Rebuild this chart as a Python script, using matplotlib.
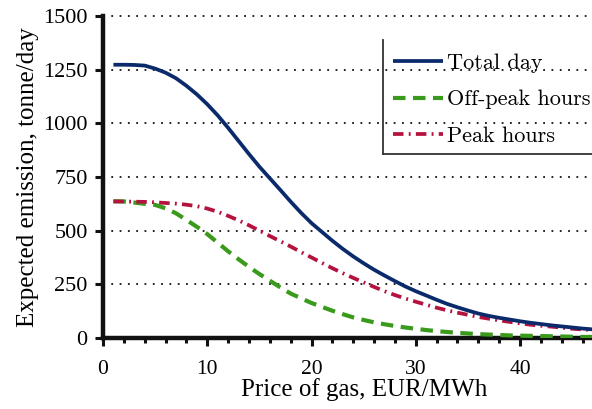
import matplotlib
matplotlib.use("Agg")
import matplotlib.pyplot as plt
from matplotlib.lines import Line2D
from matplotlib.ticker import MultipleLocator

# Gas price (EUR/MWh)
price = list(range(1, 48))

# Expected emission (tonne/day)
total_day = [1273, 1273, 1272, 1269, 1255, 1236, 1210, 1175, 1135, 1089,
             1037, 979, 918, 857, 798, 744, 690, 635, 583, 535,
             494, 453, 415, 380, 348, 318, 291, 265, 240, 218,
             198, 178, 159, 143, 128, 114, 103, 94, 86, 78,
             71, 65, 59, 54, 49, 44, 40]
off_peak = [637, 636, 631, 625, 620, 604, 581, 550, 518, 484,
            444, 404, 367, 331, 298, 267, 236, 207, 185, 163,
            145, 127, 111, 96, 84, 73, 64, 56, 49, 43,
            37, 32, 28, 24, 21, 18, 16, 14, 12, 11,
            10, 9, 8, 7, 6, 5, 5]
peak = [636, 636, 635, 634, 632, 629, 626, 621, 614, 603,
        588, 569, 548, 525, 500, 475, 451, 426, 400, 375,
        350, 325, 302, 280, 259, 238, 218, 200, 184, 169,
        155, 141, 129, 118, 108, 98, 90, 82, 75, 68,
        62, 57, 53, 48, 43, 40, 37]

series_labels = ["Total day", "Off-peak hours", "Peak hours"]
y_ticks = [0, 250, 500, 750, 1000, 1250, 1500]
x_ticks = [0, 10, 20, 30, 40]

navy = "#0b2a6b"
green = "#3a9a1c"
crimson = "#b5133f"

tick_font = "Liberation Serif"
legend_font = "cmr10"

style_total = dict(color=navy, lw=2.7, solid_capstyle="butt")
style_off = dict(color=green, lw=3.0, linestyle=(0, (3.0, 1.8)))
style_peak = dict(color=crimson, lw=2.7, linestyle=(0, (2.8, 1.4, 0.5, 1.4)))

fig = plt.figure(figsize=(5.92, 4.09), dpi=100)
ax = fig.add_axes([103 / 592, 71 / 409, (592 - 103) / 592, 322 / 409])

ax.plot(price, total_day, zorder=4, **style_total)
ax.plot(price, off_peak, zorder=3, **style_off)
ax.plot(price, peak, zorder=3, **style_peak)

ax.set_xlim(0, 46.9)
ax.set_ylim(0, 1500)
ax.set_yticks(y_ticks)
ax.set_xticks(x_ticks)
ax.xaxis.set_minor_locator(MultipleLocator(2))

for side in ("top", "right"):
    ax.spines[side].set_visible(False)
for side in ("left", "bottom"):
    ax.spines[side].set_linewidth(3.2)
    ax.spines[side].set_color("#111111")
    ax.spines[side].set_capstyle("projecting")

ax.tick_params(axis="both", which="major", direction="out", length=6,
               width=2.2, color="#111111")
ax.tick_params(axis="y", which="major", labelsize=16, pad=5)
ax.tick_params(axis="x", which="major", labelsize=15.5, pad=9.5)
ax.tick_params(axis="x", which="minor", direction="out", length=3.5,
               width=2.2, color="#111111")
for lab in ax.get_xticklabels() + ax.get_yticklabels():
    lab.set_fontfamily(tick_font)

# dotted horizontal guides at every y tick
for yv in y_ticks[1:]:
    ax.axhline(yv, color="#111111", lw=1.3, linestyle=(0, (1, 3.6)),
               zorder=1, clip_on=False)

ax.set_xlabel("Price of gas, EUR/MWh", fontfamily=tick_font, fontsize=18,
              va="center")
ax.xaxis.set_label_coords((364 - 103) / 489, (338 - 390) / 322)
ax.set_ylabel("Expected emission, tonne/day", fontfamily=tick_font,
              fontsize=18, va="center")
ax.yaxis.set_label_coords((28 - 103) / 489, (338 - 177) / 322)

# legend without fill, framed on the left and bottom only
handles = [
    Line2D([], [], **style_total),
    Line2D([], [], **style_off),
    Line2D([], [], **style_peak),
]
leg = ax.legend(handles, series_labels, loc="upper left",
                bbox_to_anchor=(380 / 592, 1 - 40 / 409),
                bbox_transform=fig.transFigure, frameon=False,
                prop={"family": legend_font, "size": 16},
                handlelength=2.25, handletextpad=0.15, labelspacing=0.76,
                borderaxespad=0, borderpad=0.6)
leg.set_zorder(5)
fig.add_artist(Line2D([383 / 592, 383 / 592], [1 - 40 / 409, 1 - 154 / 409],
                      color="#333333", lw=1.3, transform=fig.transFigure))
fig.add_artist(Line2D([383 / 592, 1.0], [1 - 154 / 409, 1 - 154 / 409],
                      color="#333333", lw=1.3, transform=fig.transFigure))

fig.savefig("out.png", dpi=100)
